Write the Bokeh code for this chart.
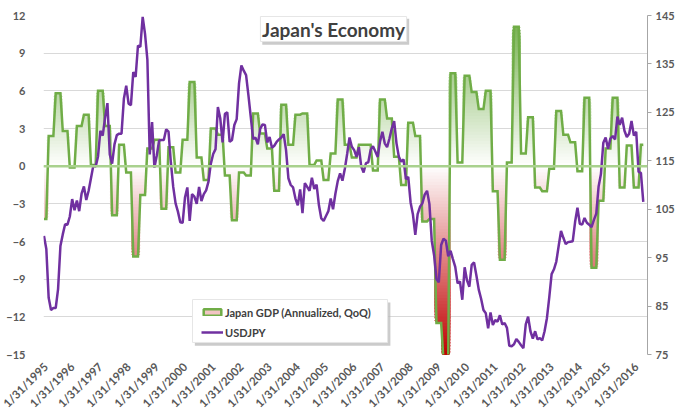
import math
import numpy as np
from bokeh.plotting import figure
from bokeh.models import (Range1d, LinearAxis, FixedTicker, Span, Legend,
                          LegendItem)
from bokeh.core.properties import value
from bokeh.embed import file_html
from bokeh.resources import INLINE

# ---------------- data ----------------
years = list(range(1995, 2017))
year_labels = [f"1/31/{y}" for y in years]

# USDJPY month-end, Jan 1995 .. Apr 2016
usdjpy = [
    99.5, 96.8, 86.7, 84.2, 84.6, 84.6, 88.5, 97.4, 99.8, 101.9, 101.8, 103.5,
    107.1, 104.8, 106.8, 104.6, 108.2, 109.7, 106.9, 108.8, 111.4, 114.0, 113.8, 115.9,
    121.2, 120.2, 123.9, 126.9, 116.3, 114.4, 118.4, 120.3, 120.6, 120.6, 127.8, 130.5,
    126.8, 126.5, 133.3, 132.3, 138.8, 138.5, 144.7, 141.2, 135.9, 116.3, 123.0, 113.6,
    116.1, 119.2, 119.3, 119.3, 121.5, 121.0, 114.6, 109.6, 106.2, 104.5, 102.3, 102.2,
    107.4, 109.5, 102.6, 108.1, 107.6, 106.1, 109.6, 106.7, 108.1, 108.9, 110.7, 114.4,
    116.4, 117.4, 126.1, 123.8, 118.8, 124.7, 125.0, 118.9, 119.3, 122.4, 123.6, 131.0,
    134.7, 133.6, 132.7, 128.5, 124.0, 119.5, 119.8, 118.4, 121.6, 122.5, 122.4, 118.8,
    119.9, 117.7, 118.1, 118.9, 119.4, 119.8, 120.5, 117.2, 111.4, 110.0, 109.5, 107.2,
    105.8, 109.1, 104.2, 110.4, 109.6, 108.8, 111.5, 109.2, 110.1, 105.8, 103.1, 102.6,
    103.6, 104.6, 107.2, 105.0, 108.2, 110.8, 112.4, 110.9, 113.3, 116.4, 119.8, 117.9,
    117.2, 115.8, 117.8, 113.8, 112.6, 114.5, 114.7, 117.3, 118.0, 116.9, 115.8, 119.0,
    121.0, 118.6, 117.8, 119.6, 121.7, 123.2, 118.6, 115.8, 114.8, 115.3, 111.2, 111.7,
    106.4, 103.9, 99.7, 104.0, 105.5, 106.2, 108.0, 108.8, 106.1, 98.5, 95.5, 90.6,
    89.9, 97.6, 98.9, 98.5, 95.3, 96.4, 94.7, 93.1, 89.7, 90.1, 86.3, 93.0,
    90.3, 89.0, 93.5, 94.0, 91.3, 88.4, 86.5, 84.2, 83.5, 80.4, 83.7, 81.1,
    82.1, 81.8, 83.1, 81.2, 81.5, 80.5, 76.8, 76.7, 77.1, 78.2, 77.6, 76.9,
    76.3, 81.2, 82.8, 79.8, 78.3, 79.8, 78.1, 78.4, 77.9, 79.8, 82.5, 86.8,
    91.6, 92.6, 94.2, 97.4, 100.5, 99.1, 97.8, 98.2, 98.3, 98.4, 102.4, 105.3,
    102.0, 101.8, 103.2, 102.2, 101.8, 101.3, 102.8, 104.1, 109.7, 112.3, 118.7, 119.8,
    117.5, 119.6, 120.1, 119.4, 124.1, 122.4, 123.9, 121.2, 119.9, 120.6, 123.2, 120.2,
    121.0, 112.7, 112.5, 106.5,
]

# Japan GDP, annualized QoQ (%), one value per quarter as plotted
gdp_quarterly = [
    -4.2, 2.4, 5.8, 2.8, -0.1, 3.2, 4.1, 0.1, 6.0, 3.2,
    -3.9, 1.7, -0.5, -7.2, -2.3, 1.4, 2.1, -3.4, 1.5, -0.5,
    2.1, 6.7, 0.7, -1.1, 3.0, 2.5, -0.75, -4.3, -0.5, -0.75,
    4.2, 2.6, 1.4, -1.95, 4.9, 1.7, 4.1, 4.2, 0.1, 0.45,
    -1.1, 1.0, 5.3, 1.7, 0.7, 1.7, 1.7, -0.35, 5.3, 3.8,
    0.75, -1.5, 3.45, 2.4, -4.4, -4.2, -12.5, -15.5, 7.4, 0.3,
    7.2, 5.9, 4.55, 6.0, -2.0, -7.45, 0.3, 11.1, 1.0, 3.9,
    -1.7, -2.0, -0.2, 4.4, 2.5, 1.9, -0.4, 5.45, -8.1, -2.75,
    1.4, 5.45, -1.7, 1.65, -1.7, 1.7,
]

# monthly positions; each quarter's value is shown on the months around its release
months = list(range(len(usdjpy)))
gdp_monthly = [gdp_quarterly[(m + 1) // 3] for m in months]
year_ticks = [12 * i for i in range(len(years))]

# ---------------- figure ----------------
FONT = "Lato"
AX_COL = "#595959"

p = figure(frame_width=604, frame_height=339, output_backend="svg",
           toolbar_location=None,
           x_range=Range1d(-0.2, 256.8), y_range=Range1d(-15, 12),
           min_border_left=43, min_border_right=33, min_border_top=15,
           min_border_bottom=62, outline_line_color=None,
           background_fill_color="white", border_fill_color="white")
p.extra_y_ranges = {"right": Range1d(75, 145)}

# axes
p.yaxis.ticker = FixedTicker(ticks=list(range(-15, 13, 3)))
p.yaxis.axis_line_color = None
p.yaxis.major_tick_line_color = None
p.yaxis.minor_tick_line_color = None
p.yaxis.major_label_standoff = 12
p.yaxis.major_label_text_font = FONT
p.yaxis.major_label_text_font_style = "bold"
p.yaxis.major_label_text_font_size = "11px"
p.yaxis.major_label_text_color = AX_COL

p.xaxis.ticker = FixedTicker(ticks=year_ticks)
p.xaxis.major_label_overrides = {t: lab for t, lab in zip(year_ticks, year_labels)}
p.xaxis.major_label_orientation = math.pi / 4
p.xaxis.axis_line_color = None
p.xaxis.major_tick_line_color = None
p.xaxis.minor_tick_line_color = None
p.xaxis.major_label_standoff = 4
p.xaxis.major_label_text_font = FONT
p.xaxis.major_label_text_font_style = "bold"
p.xaxis.major_label_text_font_size = "11.5px"
p.xaxis.major_label_text_color = AX_COL

ry = LinearAxis(y_range_name="right",
                ticker=FixedTicker(ticks=list(range(75, 146, 10))))
ry.axis_line_color = "#a6a6a6"
ry.major_tick_line_color = "#a6a6a6"
ry.major_tick_out = 4
ry.major_tick_in = 0
ry.minor_tick_line_color = None
ry.major_label_standoff = 4
ry.major_label_text_font = FONT
ry.major_label_text_font_style = "bold"
ry.major_label_text_font_size = "11px"
ry.major_label_text_color = AX_COL
p.add_layout(ry, "right")

p.xgrid.grid_line_color = None
p.ygrid.ticker = FixedTicker(ticks=list(range(-15, 13, 3)))
p.ygrid.grid_line_color = "#d9d9d9"
p.ygrid.grid_line_width = 1

# ---------------- gradient fill of the GDP area ----------------
g = np.array(gdp_monthly, dtype=float)
xs = np.array(months, dtype=float)


def mix(c, t):
    t = max(0.0, min(1.0, t))
    r = round(255 + (c[0] - 255) * t)
    gg = round(255 + (c[1] - 255) * t)
    b = round(255 + (c[2] - 255) * t)
    return "#%02x%02x%02x" % (r, gg, b)


GREEN = (112, 173, 71)
RED = (192, 0, 0)
step = 0.25
for a in np.arange(0, 12, step):
    col = mix(GREEN, (a + step / 2) / 12.0)
    p.varea(x=xs, y1=np.full(len(xs), a), y2=np.maximum(g, a),
            fill_color=col, fill_alpha=1)
for b in np.arange(0, -15, -step):
    col = mix(RED, (-(b - step / 2)) / 15.0)
    p.varea(x=xs, y1=np.minimum(g, b), y2=np.full(len(xs), b),
            fill_color=col, fill_alpha=1)

# zero line (category axis crossing)
p.add_layout(Span(location=0, dimension="width", line_color="#a9d18e",
                  line_width=2.5))

# GDP line
gdp_line = p.line(months, gdp_monthly, line_color="#70ad47", line_width=2.5,
                  line_join="miter")
# USDJPY line
usd_line = p.line(months, usdjpy, y_range_name="right", line_color="#7030a0",
                  line_width=2.5)

# ---------------- title box ----------------
p.quad(left=[92.9], right=[155.4], top=[11.74], bottom=[9.68],
       fill_color="#b5b5b5", fill_alpha=0.7, line_color=None)
p.quad(left=[92.1], right=[154.3], top=[11.92], bottom=[9.93],
       fill_color="white", line_color="#e6e6e6", line_width=1)
p.text(x=[123.2], y=[10.92], text=["Japan's Economy"], text_font=value(FONT),
       text_font_style="bold", text_font_size="19px", text_color="#404040",
       text_align="center", text_baseline="middle")

# ---------------- legend ----------------
p.quad(left=[64.2], right=[147.4], top=[-10.86], bottom=[-14.30],
       fill_color="#b5b5b5", fill_alpha=0.7, line_color=None)
p.quad(left=[63.2], right=[146.2], top=[-10.62], bottom=[-14.04],
       fill_color="white", line_color="#e6e6e6", line_width=1)
# legend swatch renderer (sits outside the visible ranges)
gdp_icon = p.quad(left=[-50], right=[-49], top=[-40], bottom=[-41],
                  fill_color="#f2c4c4", line_color="#70ad47", line_width=2.5)

legend = Legend(items=[LegendItem(label="Japan GDP (Annualized, QoQ)",
                                  renderers=[gdp_icon]),
                       LegendItem(label="USDJPY", renderers=[usd_line])],
                location=(158, 13), orientation="vertical",
                border_line_color=None, background_fill_alpha=0,
                padding=3, spacing=2, margin=0,
                label_height=18, glyph_height=8, glyph_width=22,
                label_standoff=2, label_text_font=FONT,
                label_text_font_style="bold", label_text_font_size="11px",
                label_text_color="#404040")
p.add_layout(legend)

open("out.html", "w").write(file_html(p, INLINE))
